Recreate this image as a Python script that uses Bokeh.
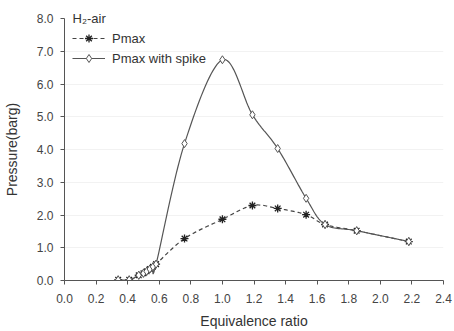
from bokeh.plotting import figure
from bokeh.models import Legend, LegendItem, FixedTicker, NumeralTickFormatter, Range1d, Title
from bokeh.embed import file_html
from bokeh.resources import INLINE
import numpy as np

# Data
phi = [0.34, 0.41, 0.47, 0.50, 0.52, 0.54, 0.56, 0.58, 0.76, 1.00, 1.19, 1.35, 1.53, 1.65, 1.85, 2.18]
pmax = [0.02, 0.02, 0.16, 0.22, 0.28, 0.35, 0.42, 0.50, 1.28, 1.87, 2.29, 2.20, 2.01, 1.71, 1.52, 1.19]
pmax_spike = [0.02, 0.02, 0.16, 0.22, 0.28, 0.35, 0.42, 0.50, 4.18, 6.74, 5.06, 4.03, 2.51, 1.71, 1.52, 1.19]
x_ticks = [0.0, 0.2, 0.4, 0.6, 0.8, 1.0, 1.2, 1.4, 1.6, 1.8, 2.0, 2.2, 2.4]
y_ticks = [0, 1, 2, 3, 4, 5, 6, 7, 8]
legend_title = "H₂-air"


def smooth(xs, ys, n=20):
    """Catmull-Rom smoothing like a spreadsheet's smoothed line."""
    xs = np.asarray(xs, float)
    ys = np.asarray(ys, float)
    px = np.concatenate([[xs[0]], xs, [xs[-1]]])
    py = np.concatenate([[ys[0]], ys, [ys[-1]]])
    ox, oy = [], []
    t = np.linspace(0, 1, n, endpoint=False)
    for i in range(1, len(px) - 2):
        x0, x1, x2, x3 = px[i - 1], px[i], px[i + 1], px[i + 2]
        y0, y1, y2, y3 = py[i - 1], py[i], py[i + 1], py[i + 2]
        c1x, c1y = x1 + (x2 - x0) / 6, y1 + (y2 - y0) / 6
        c2x, c2y = x2 - (x3 - x1) / 6, y2 - (y3 - y1) / 6
        bx = (1 - t) ** 3 * x1 + 3 * (1 - t) ** 2 * t * c1x + 3 * (1 - t) * t ** 2 * c2x + t ** 3 * x2
        by = (1 - t) ** 3 * y1 + 3 * (1 - t) ** 2 * t * c1y + 3 * (1 - t) * t ** 2 * c2y + t ** 3 * y2
        ox.extend(bx)
        oy.extend(by)
    ox.append(xs[-1])
    oy.append(ys[-1])
    return ox, oy


W, H = 454, 331
FL, FT, FR, FB = 64, 18, 443, 280  # frame edges in pixels

p = figure(width=W, height=H, output_backend="svg", toolbar_location=None,
           x_range=Range1d(0, 2.4), y_range=Range1d(0, 8),
           min_border_left=FL, min_border_right=W - FR, min_border_top=FT,
           min_border_bottom=H - FB)
p.outline_line_color = None
p.background_fill_color = "white"

FONT = "Liberation Sans"
for ax in (p.xaxis, p.yaxis):
    ax.major_label_text_font = FONT
    ax.major_label_text_font_size = "12px"
    ax.major_label_text_color = "#444444"
    ax.axis_label_text_font = FONT
    ax.axis_label_text_font_size = "14px"
    ax.axis_label_text_font_style = "normal"
    ax.axis_label_text_color = "#333333"
    ax.axis_line_color = "#555555"
    ax.major_tick_line_color = "#555555"
    ax.major_tick_in = 0
    ax.major_tick_out = 4
    ax.minor_tick_line_color = None
    ax.formatter = NumeralTickFormatter(format="0.0")

p.xaxis.ticker = FixedTicker(ticks=x_ticks)
p.yaxis.ticker = FixedTicker(ticks=y_ticks)
p.xaxis.axis_label = "Equivalence ratio"
p.yaxis.axis_label = "Pressure(barg)"
p.xaxis.major_label_standoff = 9
p.xaxis.axis_label_standoff = 7
p.yaxis.major_label_standoff = 7
p.yaxis.axis_label_standoff = 14

p.xgrid.grid_line_color = None
p.ygrid.grid_line_color = "#f2f2f2"
p.ygrid.grid_line_width = 1

sx, sy = smooth(phi, pmax)
l1 = p.line(sx, sy, line_color="#444444", line_width=1.2, line_dash="4 3")
m1 = p.scatter(phi, pmax, marker="asterisk", size=8, line_color="#222222", line_width=1.3)

sx2, sy2 = smooth(phi, pmax_spike)
l2 = p.line(sx2, sy2, line_color="#555555", line_width=1.2)
m2 = p.scatter(phi, pmax_spike, marker="diamond", size=8, line_color="#555555",
               fill_color="white", line_width=1)

legend = Legend(items=[LegendItem(label="Pmax", renderers=[l1, m1]),
                       LegendItem(label="Pmax with spike", renderers=[l2, m2])],
                location=(8, (FB - FT) - 50))
legend.label_text_font = FONT
legend.label_text_font_size = "13px"
legend.label_text_color = "#333333"
legend.border_line_color = None
legend.background_fill_alpha = 0
legend.glyph_width = 33
legend.glyph_height = 20
legend.label_height = 20
legend.label_standoff = 7
legend.spacing = 0
legend.padding = 0
legend.margin = 0
p.add_layout(legend)

t = Title(text=legend_title, align="left", vertical_align="bottom", offset=8,
          standoff=-14, text_font=FONT, text_font_size="13px",
          text_font_style="normal", text_color="#333333")
p.add_layout(t, "above")

open("out.html", "w").write(file_html(p, INLINE))
